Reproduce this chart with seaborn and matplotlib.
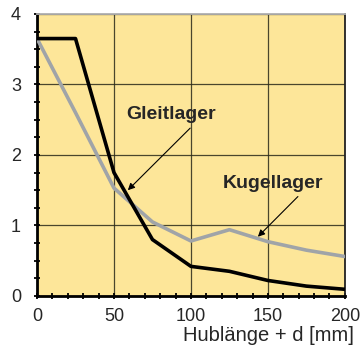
import matplotlib
matplotlib.use("Agg")
import matplotlib.pyplot as plt
import seaborn as sns
import pandas as pd
from matplotlib.ticker import MultipleLocator

x_vals = [0, 25, 50, 75, 100, 125, 150, 175, 200]
gleitlager = [3.65, 3.65, 1.75, 0.80, 0.42, 0.35, 0.22, 0.14, 0.095]
kugellager = [3.65, 2.60, 1.53, 1.05, 0.78, 0.94, 0.77, 0.65, 0.56]
x_ticks = [0, 50, 100, 150, 200]
y_ticks = [0, 1, 2, 3, 4]
x_label = "Hublänge + d [mm]"

sns.set_style("white")
plt.rcParams['font.family'] = ['Liberation Sans', 'DejaVu Sans']

df = pd.DataFrame({"x": x_vals, "Gleitlager": gleitlager, "Kugellager": kugellager})

fig = plt.figure(figsize=(3.63, 3.47), dpi=100)
ax = fig.add_axes([0.102, 0.147, 0.848, 0.813])
ax.set_facecolor("#FDE699")

sns.lineplot(data=df, x="x", y="Kugellager", ax=ax, color="#a0a4a8", lw=2.6, zorder=3)
sns.lineplot(data=df, x="x", y="Gleitlager", ax=ax, color="black", lw=2.6, zorder=4)

ax.set_xlim(0, 200)
ax.set_ylim(0, 4)
ax.set_xticks(x_ticks)
ax.set_yticks(y_ticks)
ax.xaxis.set_minor_locator(MultipleLocator(10))
ax.yaxis.set_minor_locator(MultipleLocator(0.25))
ax.grid(True, which="major", color="#2a2a1a", lw=0.9, alpha=0.85)
ax.set_axisbelow(True)
ax.tick_params(which="both", direction="inout", length=5, width=1.3, color="black",
               left=True, bottom=True, labelsize=13, pad=6)
ax.tick_params(axis="y", pad=9)

for s in ["left", "bottom"]:
    ax.spines[s].set_color("black")
    ax.spines[s].set_linewidth(2)
ax.spines["right"].set_color("#222222")
ax.spines["right"].set_linewidth(1.3)
ax.spines["top"].set_color("#b0b0b0")
ax.spines["top"].set_linewidth(1.3)

ax.set_ylabel("")
ax.set_xlabel(x_label, fontsize=14.5, labelpad=0)
ax.xaxis.set_label_coords(1.03, -0.107)
ax.xaxis.label.set_ha("right")

arrow = dict(arrowstyle="-|>", color="black", lw=0.8, mutation_scale=10, shrinkA=0, shrinkB=0)
ax.text(87, 2.58, "Gleitlager", ha="center", va="center", fontsize=14, fontweight="bold", zorder=6)
ax.annotate("", xy=(59, 1.5), xytext=(99.5, 2.38), arrowprops=arrow, zorder=6)
ax.text(153, 1.6, "Kugellager", ha="center", va="center", fontsize=14, fontweight="bold", zorder=6)
ax.annotate("", xy=(143.5, 0.84), xytext=(169.5, 1.41), arrowprops=arrow, zorder=6)

fig.savefig("out.png", dpi=100)
